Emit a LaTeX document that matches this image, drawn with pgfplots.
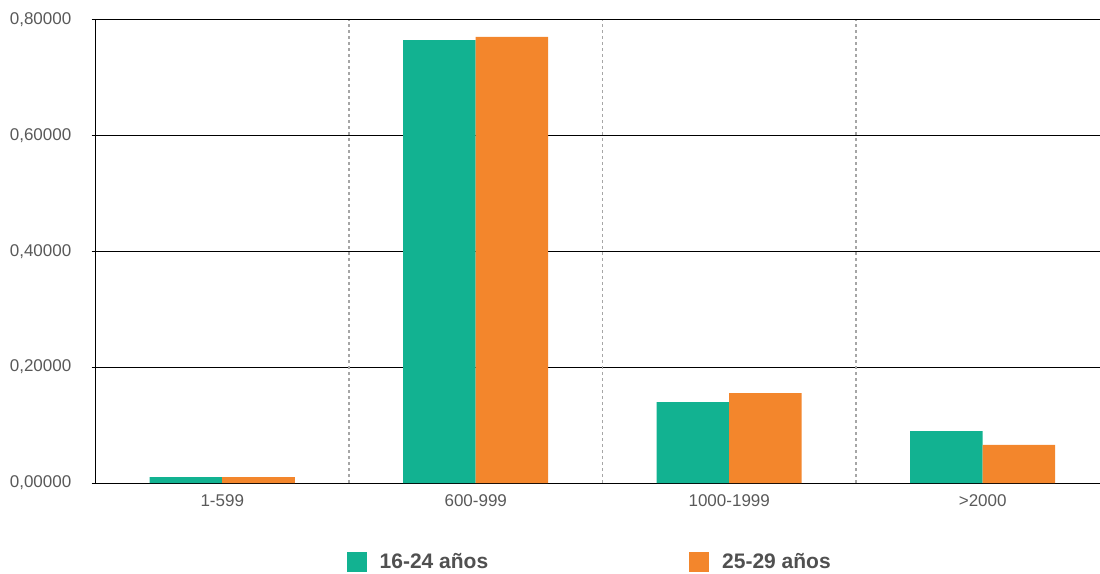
\documentclass[border=0pt]{standalone}
\usepackage{fontspec}
\setmainfont{Liberation Sans}
\usepackage{pgfplots}
\pgfplotsset{compat=1.18}
\definecolor{verde}{RGB}{18,178,145}
\definecolor{naranja}{RGB}{243,134,44}
\definecolor{texto}{RGB}{89,89,89}
\definecolor{leyenda}{RGB}{80,80,80}
\pgfplotsset{sq/.style={legend image code/.code={\fill[##1,draw=none] (0pt,-10pt) rectangle (20pt,10pt);}}}
\begin{document}
\begin{tikzpicture}
\begin{axis}[
  at={(95.5pt,90pt)}, anchor=south west,
  scale only axis, width=1014pt, height=463.5pt,
  ybar=0pt, bar width=72.5pt,
  xmin=-0.5, xmax=3.5, ymin=0, ymax=0.8,
  axis lines*=left,
  axis line style={black, line width=0.9pt},
  xtick={0,1,2,3},
  xticklabels={1-599,600-999,1000-1999,>2000},
  ytick={0,0.2,0.4,0.6,0.8},
  ymajorgrids,
  major grid style={black, line width=0.8pt},
  tick align=outside,
  major tick length=4pt,
  xtick style={draw=none},
  ytick style={black, line width=0.8pt},
  extra x ticks={0.5,1.5,2.5},
  extra x tick labels={},
  extra x tick style={grid=major, major grid style={black!35, dash pattern=on 3pt off 3pt, line width=1.2pt}},
  tick label style={font=\fontsize{17}{20}\selectfont, text=texto},
  yticklabel style={anchor=east, inner sep=0pt, xshift=-20pt, /pgf/number format/.cd, fixed, fixed zerofill, precision=5, use comma, assume math mode=true},
  xticklabel style={anchor=north, inner sep=0pt, yshift=-7pt},
  legend columns=2,
  legend style={at={(0.2475,-0.1704)}, anchor=west, draw=none, fill=none, inner sep=0pt,
    font=\fontsize{21}{24}\selectfont\bfseries, text=leyenda,
    nodes={inner sep=0pt},
    /tikz/every odd column/.append style={column sep=13pt},
    /tikz/every even column/.append style={column sep=201pt}},
]
\addplot[fill=verde, draw=none, sq] coordinates {(0,0.0103) (1,0.7646) (2,0.1398) (3,0.0897)};
\addlegendentry{16-24 años}
\addplot[fill=naranja, draw=none, sq] coordinates {(0,0.0103) (1,0.7700) (2,0.1553) (3,0.0656)};
\addlegendentry{25-29 años}
\end{axis}
\pgfresetboundingbox
\path (0,0) rectangle (1100pt,573pt);
\end{tikzpicture}
\end{document}
